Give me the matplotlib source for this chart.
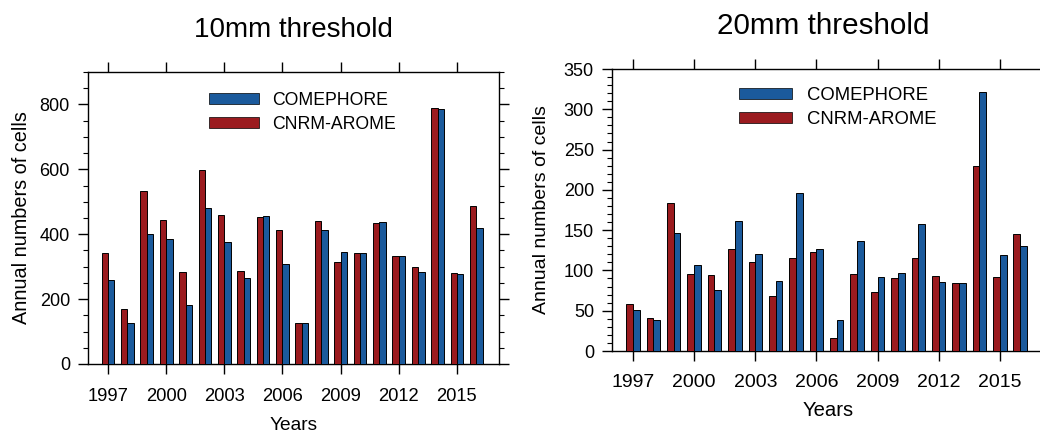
import matplotlib
matplotlib.use("Agg")
import matplotlib.pyplot as plt
from matplotlib.patches import Patch
from matplotlib.ticker import MultipleLocator
import numpy as np

plt.rcParams['font.family'] = ['Liberation Sans', 'DejaVu Sans']

years = list(range(1997, 2017))
tick_years = [1997, 2000, 2003, 2006, 2009, 2012, 2015]

comephore_10 = [259, 126, 401, 386, 183, 481, 377, 266, 457, 309,
                125, 412, 346, 343, 439, 334, 285, 785, 277, 419]
arome_10 = [341, 171, 532, 444, 285, 599, 458, 288, 454, 413,
            125, 441, 315, 343, 434, 334, 298, 789, 280, 487]

comephore_20 = [51, 39, 146, 107, 76, 161, 120, 87, 196, 126,
                38, 137, 92, 97, 158, 86, 85, 321, 119, 130]
arome_20 = [58, 41, 184, 96, 94, 127, 111, 68, 116, 123,
            16, 96, 73, 90, 115, 93, 85, 230, 92, 145]

titles = ["10mm threshold", "20mm threshold"]
series_names = ["COMEPHORE", "CNRM-AROME"]

BLUE = "#1b5a9c"
RED = "#9b1b1f"

fig = plt.figure(figsize=(10.4, 4.33), dpi=100)
W, H = 1040, 433

def add_axes_px(l, r, t, b):
    return fig.add_axes([l / W, (H - b) / H, (r - l) / W, (b - t) / H])

ax1 = add_axes_px(88, 499, 72, 364)
ax2 = add_axes_px(612, 1044, 69, 351)

bw = 0.33
x = np.array(years)

# ax, comephore, arome, ymax, major, minor, xtick size, xpad, xlabel size, xlabelpad,
# ylabel size, ylabelpad, legend size, legend y, handletextpad
configs = [
    (ax1, comephore_10, arome_10, 900, 200, 50, 13.2, 10, 13.8, 9, 14.3, 6, 12.7, 0.932, 0.75),
    (ax2, comephore_20, arome_20, 350, 50, 10, 14.0, 9.5, 14.6, 7, 14.0, 10, 13.3, 0.935, 0.85),
]

for (ax, com, aro, ymax, major, minor, xts, xpad, xls, xlpad,
     yls, ylpad, lgs, legy, htp) in configs:
    ax.bar(x - bw / 2, aro, width=bw, color=RED, edgecolor='black', linewidth=0.7, zorder=3)
    ax.bar(x + bw / 2, com, width=bw, color=BLUE, edgecolor='black', linewidth=0.7, zorder=3)
    ax.set_xlim(1995.97, 2017.17)
    ax.set_ylim(0, ymax)
    ax.set_xticks(tick_years)
    ax.set_xticklabels([str(t) for t in tick_years])
    ax.yaxis.set_major_locator(MultipleLocator(major))
    ax.yaxis.set_minor_locator(MultipleLocator(minor))
    ax.tick_params(axis='both', which='major', direction='out', length=7, width=1.0,
                   labelsize=13, top=True, right=True, pad=6)
    ax.tick_params(axis='x', which='major', pad=xpad, labelsize=xts)
    ax.tick_params(axis='y', which='minor', direction='out', length=3.5, width=0.8,
                   right=True)
    ax.tick_params(axis='x', which='minor', bottom=False, top=False)
    for s in ax.spines.values():
        s.set_linewidth(1.0)
    ax.set_xlabel("Years", fontsize=xls, labelpad=xlpad)
    ax.set_ylabel("Annual numbers of cells", fontsize=yls, labelpad=ylpad)
    handles = [Patch(facecolor=BLUE, edgecolor='black', linewidth=0.5),
               Patch(facecolor=RED, edgecolor='black', linewidth=0.5)]
    ax.legend(handles, series_names, loc='upper left', bbox_to_anchor=(0.294, legy),
              frameon=False, fontsize=lgs, handlelength=2.85, handleheight=0.55,
              handletextpad=htp, borderpad=0, borderaxespad=0, labelspacing=0.38)

fig.text((88 + 499) / 2 / W, 1 - 30 / H, titles[0], ha='center', va='center', fontsize=20)
fig.text(823 / W, 1 - 26 / H, titles[1], ha='center', va='center', fontsize=21.3)

fig.savefig("out.png", dpi=100)
